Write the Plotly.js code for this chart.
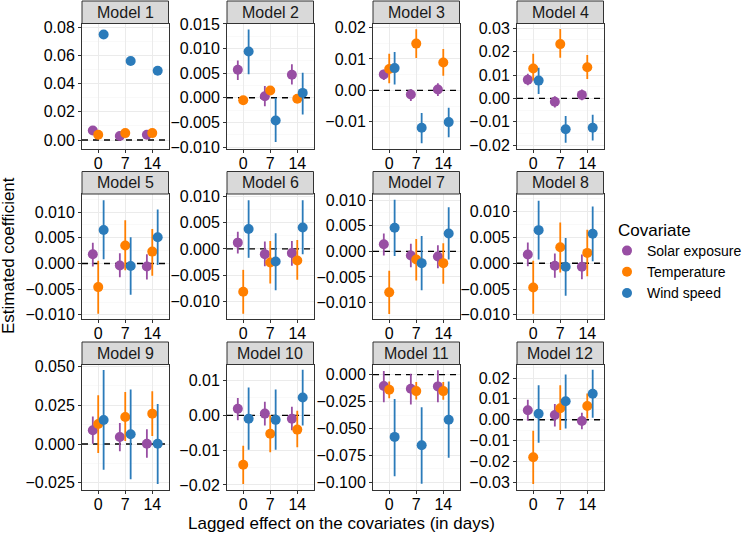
<!DOCTYPE html>
<html>
<head>
<meta charset="utf-8">
<script src="https://cdn.plot.ly/plotly-3.0.1.min.js"></script>
<style>html,body{margin:0;padding:0;background:#fff}#chart{width:749px;height:535px}</style>
</head>
<body>
<div id="chart"></div>
<script>
// facet names, lag labels, covariates
const models = ['Model 1','Model 2','Model 3','Model 4','Model 5','Model 6','Model 7','Model 8','Model 9','Model 10','Model 11','Model 12'];
const lagLabels = ['0','7','14'];
const covariates = ['Solar exposure','Temperature','Wind speed'];

// one row per model, columns = lag 0, 7, 14
const solarEst = [[0.0067,0.0028,0.0037],[0.0057,0.0003,0.0047],[0.0051,-0.0013,0.0003],[0.0080,-0.0014,0.0015],
  [0.0018,-0.0004,-0.0006],[0.0012,-0.0010,-0.0008],[0.0014,-0.0008,-0.0010],[0.0017,-0.0005,-0.0007],
  [0.0089,0.0046,0.0002],[0.0019,0.0005,-0.0010],[-0.0106,-0.0131,-0.0109],[0.0045,0.0023,-0.0006]];
const solarLo = [[0.0057,0.0018,0.0027],[0.0036,-0.0017,0.0027],[0.0033,-0.0034,-0.0018],[0.0056,-0.0039,-0.0008],
  [-0.0006,-0.0027,-0.0031],[-0.0009,-0.0033,-0.0032],[-0.0008,-0.0031,-0.0033],[-0.0006,-0.0028,-0.0031],
  [0.0002,-0.0046,-0.0089],[-0.0014,-0.0029,-0.0043],[-0.0256,-0.0278,-0.0256],[-0.0005,-0.0032,-0.0046]];
const solarHi = [[0.0077,0.0038,0.0047],[0.0076,0.0024,0.0068],[0.0066,0.0004,0.0023],[0.0105,0.0009,0.0038],
  [0.0040,0.0020,0.0018],[0.0033,0.0014,0.0015],[0.0035,0.0015,0.0012],[0.0040,0.0019,0.0017],
  [0.0177,0.0135,0.0096],[0.0050,0.0039,0.0025],[0.0034,0.0009,0.0041],[0.0096,0.0075,0.0034]];

const tempEst = [[0.0037,0.0049,0.0049],[-0.0005,0.0015,-0.0002],[0.0068,0.0149,0.0089],[0.0128,0.0232,0.0133],
  [-0.0046,0.0035,0.0023],[-0.0082,-0.0026,-0.0022],[-0.0080,-0.0016,-0.0023],[-0.0047,0.0031,0.0020],
  [0.0129,0.0174,0.0196],[-0.0142,-0.0053,-0.0041],[-0.0141,-0.0153,-0.0153],[-0.0180,0.0055,0.0066]];
const tempLo = [[0.0027,0.0039,0.0039],[-0.0014,0.0007,-0.0010],[0.0023,0.0103,0.0047],[0.0076,0.0174,0.0083],
  [-0.0098,-0.0013,-0.0024],[-0.0124,-0.0066,-0.0059],[-0.0122,-0.0057,-0.0063],[-0.0098,-0.0018,-0.0025],
  [-0.0057,0.0020,0.0052],[-0.0197,-0.0106,-0.0092],[-0.0219,-0.0231,-0.0234],[-0.0308,-0.0049,0.0006]];
const tempHi = [[0.0047,0.0059,0.0059],[0.0003,0.0022,0.0006],[0.0117,0.0195,0.0132],[0.0191,0.0296,0.0185],
  [0.0005,0.0084,0.0067],[-0.0040,0.0015,0.0017],[-0.0038,0.0024,0.0016],[0.0005,0.0079,0.0065],
  [0.0314,0.0336,0.0340],[-0.0087,0.0000,0.0013],[-0.0063,-0.0069,-0.0069],[-0.0053,0.0165,0.0126]];

const windEst = [[0.0747,0.0560,0.0490],[0.0094,-0.0046,0.0010],[0.0071,-0.0119,-0.0101],[0.0076,-0.0132,-0.0125],
  [0.0065,-0.0005,0.0051],[0.0038,-0.0024,0.0041],[0.0046,-0.0023,0.0035],[0.0064,-0.0007,0.0057],
  [0.0155,0.0063,0.0002],[-0.0010,-0.0013,0.0051],[-0.0578,-0.0656,-0.0419],[0.0029,0.0089,0.0125]];
const windLo = [[0.0717,0.0535,0.0465],[0.0048,-0.0090,-0.0034],[0.0019,-0.0168,-0.0149],[0.0019,-0.0189,-0.0180],
  [0.0008,-0.0061,-0.0003],[-0.0017,-0.0079,-0.0010],[-0.0009,-0.0076,-0.0016],[0.0007,-0.0063,0.0004],
  [-0.0166,-0.0227,-0.0257],[-0.0099,-0.0099,-0.0029],[-0.0944,-0.1013,-0.0772],[-0.0110,-0.0042,0.0010]];
const windHi = [[0.0777,0.0585,0.0515],[0.0139,0.0000,0.0051],[0.0122,-0.0072,-0.0055],[0.0131,-0.0075,-0.0070],
  [0.0123,0.0051,0.0105],[0.0093,0.0030,0.0093],[0.0101,0.0030,0.0086],[0.0121,0.0049,0.0110],
  [0.0477,0.0351,0.0259],[0.0080,0.0074,0.0131],[-0.0225,-0.0303,-0.0063],[0.0165,0.0217,0.0240]];

// reference line drawn in every facet
const refLine = 0;

// layout config (free y scales per facet)
const yRanges = [[-0.006,0.0825],[-0.0103,0.0151],[-0.0185,0.0213],[-0.0214,0.032],[-0.0108,0.0135],[-0.0134,0.0105],
  [-0.0132,0.0112],[-0.0108,0.0134],[-0.0293,0.0513],[-0.0213,0.0146],[-0.1066,0.0094],[-0.0335,0.0265]];
const yDticks = [0.02,0.005,0.01,0.01,0.005,0.005,0.005,0.005,0.025,0.01,0.025,0.01];
const yFormats = ['.2f','.3f','.2f','.2f','.3f','.3f','.3f','.3f','.3f','.2f','.3f','.2f'];
const xRange = [0.4, 3.6];

const W = 749, H = 535;
const colLeft = [82, 227, 373, 517];
const panelW = 86.5;
const stripTop = [1, 171.5, 342];
const stripH = 22.5;
const panelH = 125;
const colors = ['#984ea3', '#ff7f00', '#2b7bba'];
const dodge = [-0.2, 0, 0.2];
const series = [
  {est: solarEst, lo: solarLo, hi: solarHi},
  {est: tempEst, lo: tempLo, hi: tempHi},
  {est: windEst, lo: windLo, hi: windHi}
];
const fontFam = 'Liberation Sans, Arial, sans-serif';

const data = [];
const layout = {
  width: W, height: H,
  margin: {l: 0, r: 0, t: 0, b: 0},
  paper_bgcolor: '#fff', plot_bgcolor: '#fff',
  font: {family: fontFam, color: '#000'},
  showlegend: true,
  legend: {x: 607 / W, xanchor: 'left', y: 1 - 235 / H, yanchor: 'top', tracegroupgap: 0,
    font: {size: 14, family: fontFam, color: '#000'}, bgcolor: 'rgba(0,0,0,0)', itemclick: false},
  shapes: [],
  annotations: []
};

models.forEach((name, i) => {
  const col = i % 4, row = Math.floor(i / 4);
  const sfx = i === 0 ? '' : String(i + 1);
  const top = stripTop[row] + stripH, bottom = top + panelH;

  layout['xaxis' + sfx] = {
    domain: [colLeft[col] / W, (colLeft[col] + panelW) / W],
    anchor: 'y' + sfx,
    range: xRange,
    tickvals: [1, 2, 3], ticktext: lagLabels,
    showline: true, mirror: true, linecolor: '#333', linewidth: 1,
    ticks: 'outside', ticklen: 3, tickcolor: '#333', ticklabelstandoff: -3,
    showgrid: true, gridcolor: '#ebebeb', gridwidth: 1, zeroline: false,
    tickfont: {size: 16, color: '#000'}, fixedrange: true
  };
  layout['yaxis' + sfx] = {
    domain: [1 - bottom / H, 1 - top / H],
    anchor: 'x' + sfx,
    range: yRanges[i],
    dtick: yDticks[i], tick0: 0, tickformat: yFormats[i],
    showline: true, mirror: true, linecolor: '#333', linewidth: 1,
    ticks: 'outside', ticklen: 3, tickcolor: '#333',
    showgrid: true, gridcolor: '#ebebeb', gridwidth: 1, zeroline: false,
    minor: {dtick: yDticks[i] / 2, tick0: 0, showgrid: true, gridcolor: '#f5f5f5', gridwidth: 0.6, ticks: ''},
    tickfont: {size: 16, color: '#000'}, fixedrange: true
  };

  // strip
  layout.shapes.push({type: 'rect', xref: 'paper', yref: 'paper',
    x0: colLeft[col] / W, x1: (colLeft[col] + panelW) / W,
    y0: 1 - top / H, y1: 1 - stripTop[row] / H,
    fillcolor: '#d9d9d9', line: {color: '#333', width: 1}});
  layout.annotations.push({xref: 'paper', yref: 'paper',
    x: (colLeft[col] + panelW / 2) / W, y: 1 - (stripTop[row] + stripH / 2) / H,
    text: name, showarrow: false, xanchor: 'center', yanchor: 'middle',
    font: {size: 16, color: '#1a1a1a'}});

  // dashed zero line under the points
  data.push({
    type: 'scatter', mode: 'lines', showlegend: false,
    xaxis: 'x' + sfx, yaxis: 'y' + sfx,
    x: xRange, y: [refLine, refLine],
    line: {color: '#000', width: 1.4, dash: '6px,5px'},
    hoverinfo: 'skip'
  });

  series.forEach((s, c) => {
    data.push({
      type: 'scatter', mode: 'markers',
      name: covariates[c], showlegend: i === 0,
      xaxis: 'x' + sfx, yaxis: 'y' + sfx,
      x: [1, 2, 3].map(v => v + dodge[c]),
      y: s.est[i],
      error_y: {type: 'data', symmetric: false,
        array: s.hi[i].map((v, k) => v - s.est[i][k]),
        arrayminus: s.est[i].map((v, k) => v - s.lo[i][k]),
        color: colors[c], thickness: 1.8, width: 0},
      marker: {color: colors[c], size: 10},
      hoverinfo: 'skip'
    });
  });
});

// axis titles and legend title
layout.annotations.push({xref: 'paper', yref: 'paper', x: 341 / W, y: 1 - 523 / H,
  text: 'Lagged effect on the covariates (in days)', showarrow: false,
  xanchor: 'center', yanchor: 'middle', font: {size: 17, color: '#000'}});
layout.annotations.push({xref: 'paper', yref: 'paper', x: 9 / W, y: 1 - 256 / H,
  text: 'Estimated coefficient', showarrow: false, textangle: -90,
  xanchor: 'center', yanchor: 'middle', font: {size: 17, color: '#000'}});
layout.annotations.push({xref: 'paper', yref: 'paper', x: 616 / W, y: 1 - 230 / H,
  text: 'Covariate', showarrow: false, xanchor: 'left', yanchor: 'middle',
  font: {size: 17, color: '#000'}});

Plotly.newPlot('chart', data, layout, {displayModeBar: false, staticPlot: true});
</script>
</body>
</html>
